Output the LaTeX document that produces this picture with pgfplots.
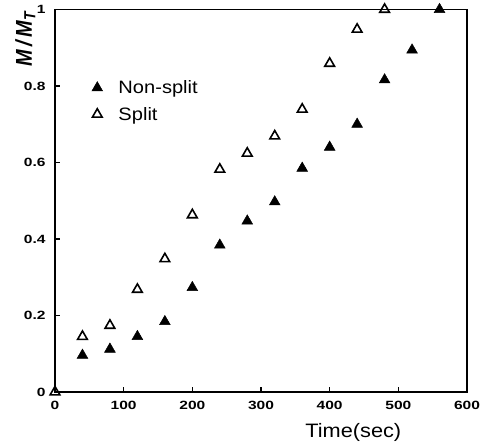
\documentclass[border=0pt]{standalone}
\usepackage{fontspec}
\usepackage{graphicx}
\setmainfont{Liberation Sans}
\newfontfamily\tickfont[FakeStretch=1.3]{Liberation Sans}
\newfontfamily\widefont[FakeStretch=1.12]{Liberation Sans}
\usepackage{pgfplots}
\pgfplotsset{compat=1.18}
\begin{document}
\begin{tikzpicture}
\path[use as bounding box] (-55bp,-56bp) rectangle (438bp,392bp);
\begin{axis}[
  at={(0,0)}, anchor=south west,
  scale only axis, width=412bp, height=382.5bp,
  xmin=0, xmax=600, ymin=0, ymax=1,
  xtick={0,100,200,300,400,500,600},
  ytick={0,0.2,0.4,0.6,0.8,1},
  tick pos=left, tick align=inside, major tick length=5bp,
  axis line style={line width=1.8bp},
  major tick style={black, line width=1.2bp},
  clip=false,
  /pgf/number format/assume math mode=true,
  ticklabel style={font=\tickfont\bfseries\fontsize{12}{14}\selectfont},
  xticklabel style={yshift=-6bp},
  yticklabel style={xshift=-6bp},
  xlabel={Time(sec)},
  xlabel style={at={(axis description cs:0.724,0)}, anchor=north, yshift=-28bp, font=\widefont\fontsize{19.5}{22}\selectfont},
  ylabel={\scalebox{1}[1.15]{\textbf{\textit{M\,/\,M}}\textsubscript{\textbf{\textit{T}}}}},
  ylabel style={at={(axis description cs:-0.056,0.924)}, anchor=base, font=\fontsize{20}{23}\selectfont},
  legend image code/.code={\path (-8bp,0bp) (8bp,0bp); \draw[#1] plot coordinates {(0bp,0bp)};},
  legend style={draw=none, fill=none, at={(axis cs:45,0.825)}, anchor=north west, font=\widefont\fontsize{18}{21}\selectfont, row sep=8bp, column sep=11bp},
  legend cell align=left,
]
\addplot[only marks, mark=triangle*, mark size=6.2bp, mark options={fill=black, draw=black, line width=0.5bp}] coordinates {
(40,0.096)(80,0.112)(120,0.145)(160,0.184)(200,0.273)(240,0.384)(280,0.447)(320,0.497)(360,0.585)(400,0.640)(440,0.700)(480,0.816)(520,0.894)(560,1.0)
};
\addlegendentry{Non-split}
\addplot[only marks, mark=triangle, mark size=5.6bp, mark options={draw=black, fill=white, line width=1.6bp}] coordinates {
(0,0)(40,0.145)(80,0.174)(120,0.268)(160,0.348)(200,0.463)(240,0.582)(280,0.624)(320,0.669)(360,0.739)(400,0.859)(440,0.948)(480,1.0)
};
\addlegendentry{Split}
\end{axis}
\end{tikzpicture}
\end{document}
